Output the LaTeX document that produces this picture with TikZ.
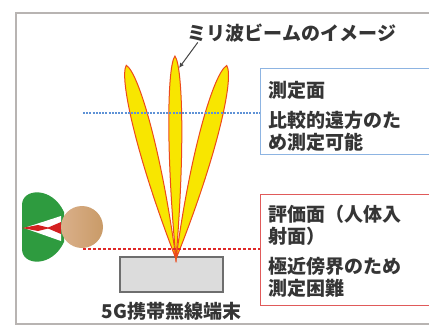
\documentclass[tikz,border=0pt]{standalone}
\usepackage{fontspec}
\newfontfamily\jpfont{Noto Sans CJK JP}
\usetikzlibrary{arrows.meta,positioning}
\definecolor{rahmen}{HTML}{B8B4B2}
\definecolor{textgrau}{HTML}{353535}
\definecolor{fernblau}{HTML}{8DB4E2}
\definecolor{linienblau}{HTML}{5E92D6}
\definecolor{nahrot}{HTML}{E05A5A}
\definecolor{linienrot}{HTML}{E02828}
\definecolor{keulengelb}{HTML}{F8E600}
\definecolor{keulenrot}{HTML}{EC4A1C}
\definecolor{geraetgrau}{HTML}{6E6E6E}
\definecolor{geraetfuell}{HTML}{DCDCDC}
\definecolor{haargruen}{HTML}{2E9B3F}
\definecolor{nasenrot}{HTML}{D42020}
\definecolor{hauthell}{HTML}{DAB08A}
\definecolor{hautdunkel}{HTML}{C99B68}
\definecolor{pfeilgrau}{HTML}{444444}

\begin{document}
\begin{tikzpicture}[x=1pt,y=-1pt,
    schrift/.style={font=\jpfont\bfseries\fontsize{19}{22}\selectfont, text=textgrau, inner sep=0pt},
    keule/.style={fill=keulengelb, draw=keulenrot, line width=1pt},
    kasten/.style={draw, line width=1pt, minimum width=180pt, inner sep=0pt, anchor=north west},
    kastentext/.style={schrift, align=left, anchor=north west},
    pfeil/.style={draw=pfeilgrau, line width=1pt, -{Latex[length=5pt,width=4.5pt]}}]
    % Beschneiden
    \clip (0,0) rectangle (429,327);
    \fill[white] (0,0) rectangle (429,327);
    % Rahmen
    \draw[rahmen, line width=1.5pt] (16,13) rectangle (450,324);
    % Endgeraet
    \node[draw=geraetgrau, line width=1.2pt, fill=geraetfuell, minimum width=103pt,
        minimum height=35pt, inner sep=0pt] (geraet) at (171.5,274.5) {};
    \node[schrift, below=9pt of geraet] (geraettext) {5G携帯無線端末};
    % Keulen
    \foreach \w/\l/\b in {14.4/200/10, -14.7/200/10.5, 0.3/203/7.5}
        \draw[keule, shift={(176,259)}, rotate=\w] (0,0)
            .. controls (1.3*\b,-0.55*\l) and (\b,-0.95*\l) .. (0,-\l)
            .. controls (-\b,-0.95*\l) and (-1.3*\b,-0.55*\l) .. cycle;
    \node[schrift] (keulentext) at (292,33) {ミリ波ビームのイメージ};
    \coordinate (keulenspitze) at (179,68);
    \draw[pfeil] ([xshift=10pt]keulentext.south west) -- (keulenspitze);
    % Kaesten
    \node[kasten, draw=fernblau, minimum height=86pt] (fern) at (260,68) {};
    \node[kastentext, below right=13.5pt and 8pt of fern.north west] (ferntext)
        {測定面\\[8pt]比較的遠方のた\\め測定可能};
    \node[kasten, draw=nahrot, minimum height=111pt] (nah) at (260,194) {};
    \node[kastentext, below right=10.5pt and 8pt of nah.north west] (nahtext)
        {評価面（人体入\\射面）\\[8pt]極近傍界のため\\測定困難};
    % Messebenen
    \coordinate (fernstart) at (83,113);
    \coordinate (nahstart) at (83,249);
    \draw[linienblau, line width=1.1pt, dash pattern=on 2pt off 1.2pt] (fernstart) -- (fernstart -| fern.west);
    \draw[linienrot, line width=1.2pt, dash pattern=on 3pt off 2pt] (nahstart) -- (nahstart -| nah.west);
    % Kopf
    \fill[haargruen] (22,205) .. controls (22,188) and (52,186) .. (64,212) -- (64,242)
        .. controls (52,268) and (22,266) .. (22,249) -- cycle;
    \fill[white] (24,228) -- (61,216) -- (61,241) -- cycle;
    \fill[nasenrot] (22,228) -- (38,225) -- (50,228) -- (38,231) -- cycle;
    \fill[nasenrot] (47,228) -- (61,222) -- (61,234) -- cycle;
    \shade[left color=hauthell, right color=hautdunkel] (82,227) circle[radius=21];
\end{tikzpicture}
\end{document}
